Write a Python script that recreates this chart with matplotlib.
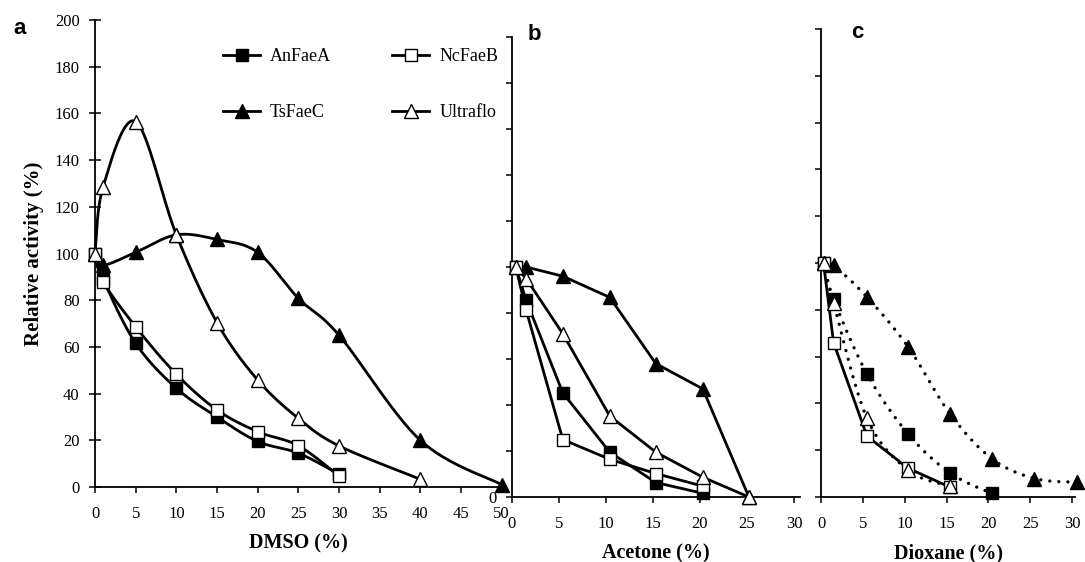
import numpy as np
import matplotlib
matplotlib.use('Agg')
import matplotlib.pyplot as plt
from matplotlib.lines import Line2D

plt.rcParams['font.family'] = ['Liberation Serif', 'DejaVu Serif']

# ---- panel a: DMSO ----
dmso_x = [0, 1, 5, 10, 15, 20, 25, 30]
dmso_an = [100, 89, 61.5, 42.3, 30, 19.5, 14.5, 5.5]
dmso_nc = [100, 88, 68.6, 48.3, 33, 23.7, 17.7, 4.7]
dmso_ts_x = [0, 1, 5, 10, 15, 20, 25, 30, 40, 50]
dmso_ts = [100, 95, 100.5, 108, 106, 100.5, 80.8, 65, 20, 1]
dmso_ul_x = [0, 1, 5, 10, 15, 20, 25, 30, 40]
dmso_ul = [100, 128.6, 156.5, 108, 70.4, 45.8, 29.4, 17.6, 3.3]

# ---- panel b: acetone ----
ace_x = [0.4, 1.5, 5.4, 10.4, 15.3, 20.3, 25.2]
ace_an = [100, 85.6, 45.3, 19.5, 6.3, 1.6]
ace_nc = [100, 81.3, 25, 16.4, 10.2, 4.7]
ace_ts = [100, 100, 96, 86.8, 58, 47, 0]
ace_ul = [100, 95, 71, 35.2, 19.5, 8.6, 0]

# ---- panel c: dioxane ----
dio_x = [0.3, 1.5, 5.5, 10.4, 15.4, 20.4, 25.5, 30.6]
dio_an = [100, 84.6, 52.6, 27, 10.3, 1.5]
dio_nc = [100, 66, 26, 12.3, 4.2]
dio_ts = [100, 99, 85.4, 64.2, 35.6, 16.4, 7.9, 6.3]
dio_ul = [100, 83, 33.6, 11.5, 4.6]

names = ['AnFaeA', 'NcFaeB', 'TsFaeC', 'Ultraflo']
mk = {'AnFaeA': ('s', 'black'), 'NcFaeB': ('s', 'white'),
      'TsFaeC': ('^', 'black'), 'Ultraflo': ('^', 'white')}
msz = {'s': 8.5, '^': 9.5}
LW = 2.0


def smooth(ax, x, y, n=25):
    # Excel-like smoothed line (Catmull-Rom in screen space)
    pts = ax.transData.transform(np.column_stack([x, y]))
    P = np.vstack([pts[0], pts, pts[-1]])
    t = np.linspace(0, 1, n)[:, None]
    out = []
    for i in range(1, len(P) - 2):
        p0, p1, p2, p3 = P[i - 1], P[i], P[i + 1], P[i + 2]
        seg = 0.5 * (2 * p1 + (-p0 + p2) * t + (2 * p0 - 5 * p1 + 4 * p2 - p3) * t ** 2
                     + (-p0 + 3 * p1 - 3 * p2 + p3) * t ** 3)
        out.append(seg)
    c = ax.transData.inverted().transform(np.vstack(out))
    return c[:, 0], c[:, 1]


def series(ax, x, y, name, ls='-', smoothed=False):
    x = x[:len(y)]
    m, fc = mk[name]
    if smoothed:
        sx, sy = smooth(ax, x, y)
    else:
        sx, sy = x, y
    if ls == ':':
        ax.plot(sx, sy, color='black', lw=2.4, linestyle=(0, (0.01, 2.7)),
                dash_capstyle='round', clip_on=False, zorder=2)
    else:
        ax.plot(sx, sy, color='black', lw=LW, clip_on=False, zorder=2,
                solid_capstyle='round', solid_joinstyle='round')
    ax.plot(x, y, linestyle='none', marker=m, ms=msz[m], mfc=fc, mec='black',
            mew=1.0, clip_on=False, zorder=3)


def style(ax):
    for s in ['top', 'right']:
        ax.spines[s].set_visible(False)
    for s in ['left', 'bottom']:
        ax.spines[s].set_linewidth(1.3)
    ax.tick_params(axis='x', direction='out', length=4, width=1.1, pad=10, labelsize=12)
    ax.tick_params(axis='y', direction='out', length=4, width=1.1, pad=7, labelsize=12)


fig = plt.figure(figsize=(10.85, 5.62), dpi=100)
W, H = 1085, 562

ax_a = fig.add_axes([95 / W, (H - 487) / H, 406.7 / W, 467 / H])
ax_b = fig.add_axes([512 / W, (H - 497) / H, 30.6 * 9.4 / W, 460 / H])
ax_c = fig.add_axes([821 / W, (H - 497) / H, 30.4 * 8.37 / W, 468 / H])

ax_a.set_xlim(0, 50)
ax_a.set_ylim(0, 200)
ax_b.set_xlim(0, 30.6)
ax_b.set_ylim(0, 200)
ax_c.set_xlim(0, 30.4)
ax_c.set_ylim(0, 200)
for ax in (ax_a, ax_b, ax_c):
    style(ax)
ax_a.tick_params(axis='y', direction='inout', length=8)

# panel a
series(ax_a, dmso_x, dmso_an, 'AnFaeA', smoothed=True)
series(ax_a, dmso_ts_x, dmso_ts, 'TsFaeC', smoothed=True)
series(ax_a, dmso_x, dmso_nc, 'NcFaeB', smoothed=True)
series(ax_a, dmso_ul_x, dmso_ul, 'Ultraflo', smoothed=True)
ax_a.set_xticks(range(0, 51, 5))
ax_a.set_yticks(range(0, 201, 20))
ax_a.set_xlabel('DMSO (%)', fontsize=14.5, fontweight='bold', labelpad=8)
ax_a.set_ylabel('Relative activity (%)', fontsize=15, fontweight='bold', labelpad=8)

# panel b
series(ax_b, ace_x, ace_an, 'AnFaeA')
series(ax_b, ace_x, ace_ts, 'TsFaeC')
series(ax_b, ace_x, ace_nc, 'NcFaeB')
series(ax_b, ace_x, ace_ul, 'Ultraflo')
ax_b.set_xticks(range(0, 31, 5))
ax_b.set_yticks(range(0, 201, 20))
ax_b.set_yticklabels(['0'] + [''] * 10)
ax_b.set_xlabel('Acetone (%)', fontsize=14.5, fontweight='bold', labelpad=8)

# panel c
series(ax_c, dio_x, dio_an, 'AnFaeA', ls=':', smoothed=True)
series(ax_c, dio_x, dio_ts, 'TsFaeC', ls=':', smoothed=True)
series(ax_c, dio_x, dio_nc, 'NcFaeB')
series(ax_c, dio_x, dio_ul, 'Ultraflo', ls=':', smoothed=True)
ax_c.set_xticks(range(0, 31, 5))
ax_c.set_yticks(range(0, 201, 20))
ax_c.set_yticklabels([])
ax_c.set_xlabel('Dioxane (%)', fontsize=14.5, fontweight='bold', labelpad=8)

# legend (2 columns, filled column-wise -> order for row layout)
order = ['AnFaeA', 'TsFaeC', 'NcFaeB', 'Ultraflo']
handles = [Line2D([], [], color='black', lw=LW, marker=mk[n][0], ms=msz[mk[n][0]],
                  mfc=mk[n][1], mec='black', mew=1.0) for n in order]
ax_a.legend(handles, order, ncol=2, frameon=False, fontsize=13,
            loc='upper left', bbox_to_anchor=(223 / W, 1 - 48 / H),
            bbox_transform=fig.transFigure, borderpad=0, borderaxespad=0,
            handlelength=2.05, handletextpad=0.55, columnspacing=3.4,
            labelspacing=2.15)

# panel letters
for lab, px, py in [('a', 20, 29), ('b', 534, 35), ('c', 857, 33)]:
    fig.text(px / W, 1 - py / H, lab, fontsize=16, fontweight='bold',
             family=['Liberation Sans', 'DejaVu Sans'], ha='center', va='center')

fig.savefig('out.png', dpi=100)
